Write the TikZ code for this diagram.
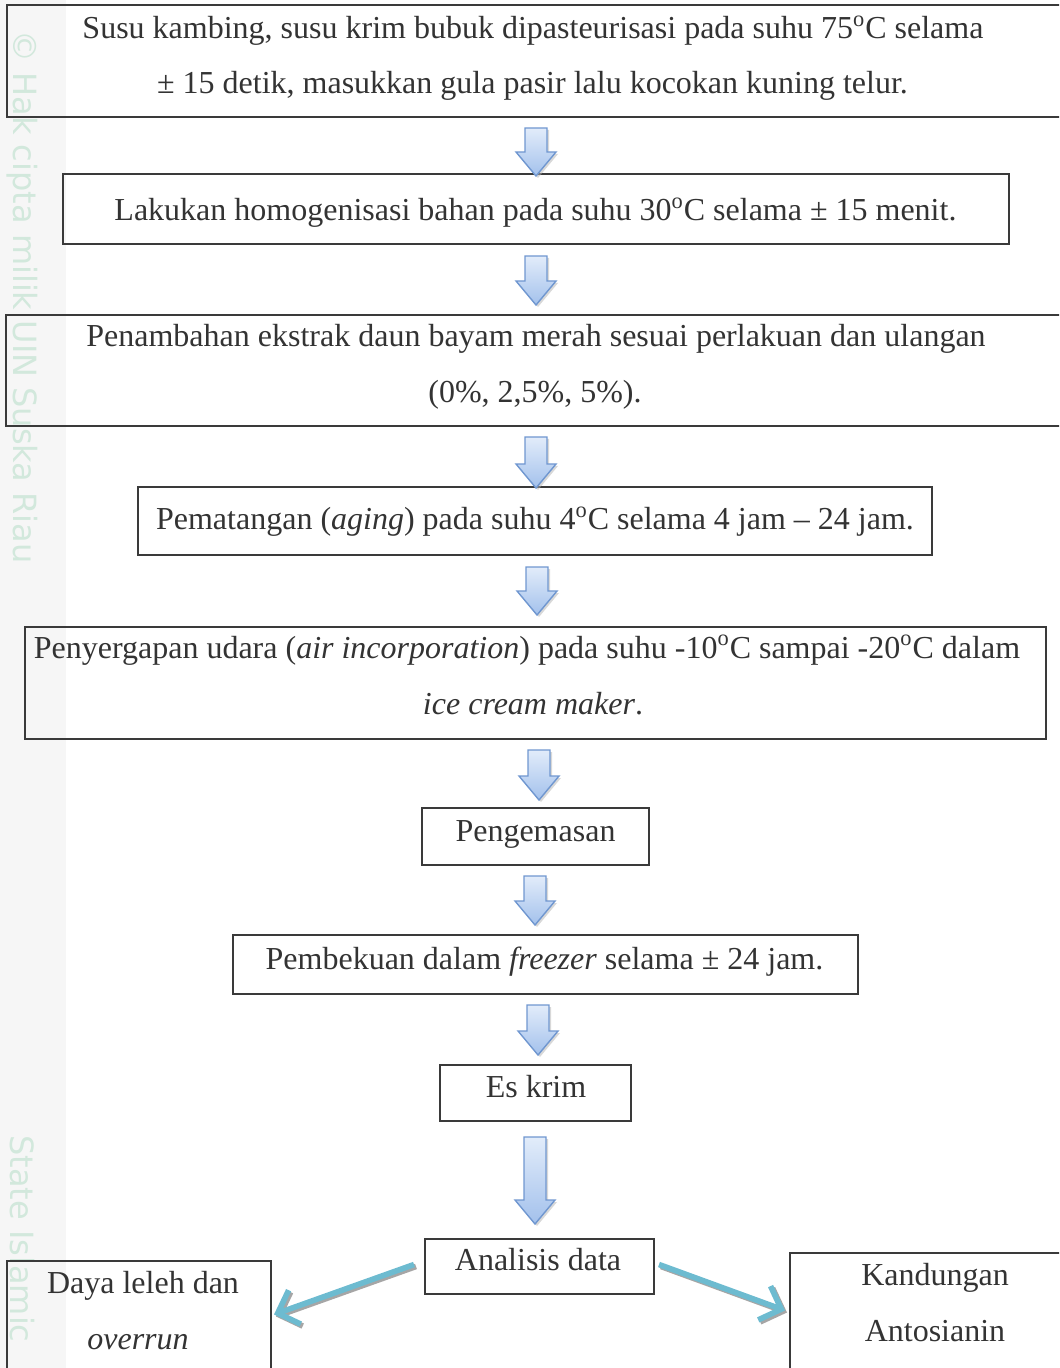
\documentclass[tikz,border=0pt]{standalone}
\usepackage{fontspec}
\setmainfont{Liberation Serif}
\newfontfamily\wmfont{DejaVu Sans}
\usetikzlibrary{arrows.meta}
\definecolor{boxline}{HTML}{3A3A3A}
\definecolor{txtcol}{HTML}{333333}
\definecolor{arrtop}{HTML}{E2ECFA}
\definecolor{arrbot}{HTML}{A3C1EC}
\definecolor{arredge}{HTML}{7097D0}
\definecolor{tealarr}{HTML}{6DBBD0}
\definecolor{wmgreen}{HTML}{D2E8DC}
\tikzset{
  box/.style={draw=boxline, line width=1pt, rectangle, inner sep=0pt},
  txt/.style={text=txtcol, font=\fontsize{16}{18}\selectfont, inner sep=0pt, anchor=base, yshift=-1.5pt},
  wm/.style={rotate=-90, anchor=west, text=wmgreen, font=\wmfont\fontsize{16}{16}\selectfont, inner sep=0pt},
  tealline/.style={draw=tealarr, line width=2.8pt, -{Straight Barb[length=9pt,width=18pt,line width=2.8pt]}},
  tealshadow/.style={draw=gray!70, line width=2.8pt, -{Straight Barb[length=9pt,width=18pt,line width=2.8pt]}},
}
% block arrow: x, top y, tip y (pixel units)
\newcommand\blockarr[3]{%
  \fill[gray!60, opacity=0.5] ({#1-11+2},{#2+2}) -- ({#1+11+2},{#2+2}) -- ({#1+11+2},{#3-24+2}) -- ({#1+20+2},{#3-24+2}) -- ({#1+2},{#3+2}) -- ({#1-20+2},{#3-24+2}) -- ({#1-11+2},{#3-24+2}) -- cycle;
  \path[draw=arredge, line width=0.7pt, top color=arrtop, bottom color=arrbot, line join=miter]
    ({#1-11},{#2}) -- ({#1+11},{#2}) -- ({#1+11},{#3-24}) -- ({#1+20},{#3-24}) -- (#1,#3) -- ({#1-20},{#3-24}) -- ({#1-11},{#3-24}) -- cycle;}
\begin{document}
\begin{tikzpicture}[x=0.5pt,y=-0.5pt]
\useasboundingbox (0,0) rectangle (1059,1368);
\clip (0,0) rectangle (1059,1368);
\fill[gray!7] (0,0) rectangle (66,1368);
% watermark
\node[wm] (wm1) at (22,30) {© Hak cipta milik UIN Suska Riau};
\node[wm] (wm2) at (22,1135) {State Islamic};

% boxes
\node[box, minimum width=531.5pt, minimum height=56pt] (b1) at (538.5,61) {};
\node[box, minimum width=473pt, minimum height=35pt] (b2) at (536,209) {};
\node[box, minimum width=532pt, minimum height=55.5pt] (b3) at (538,370.5) {};
\node[box, minimum width=397pt, minimum height=34pt] (b4) at (535,521) {};
\node[box, minimum width=510.5pt, minimum height=56pt] (b5) at (535.5,683) {};
\node[box, minimum width=113.5pt, minimum height=28.5pt] (b6) at (535.5,836.5) {};
\node[box, minimum width=312.5pt, minimum height=29.5pt] (b7) at (545.5,964.5) {};
\node[box, minimum width=95.5pt, minimum height=28pt] (b8) at (535.5,1093) {};
\node[box, minimum width=114.5pt, minimum height=27.5pt] (b9) at (539.5,1266.5) {};
\node[box, minimum width=132pt, minimum height=59.5pt] (b10) at (139,1320.5) {};
\node[box, minimum width=140pt, minimum height=63.5pt] (b11) at (930,1316.5) {};

% texts
\node[txt] (t1a) at (533,36) {Susu kambing, susu krim bubuk dipasteurisasi pada suhu 75\textsuperscript{o}C selama};
\node[txt] (t1b) at (532.5,91) {± 15 detik, masukkan gula pasir lalu kocokan kuning telur.};
\node[txt] (t2) at (535.5,218) {Lakukan homogenisasi bahan pada suhu 30\textsuperscript{o}C selama ± 15 menit.};
\node[txt] (t3a) at (536,344) {Penambahan ekstrak daun bayam merah sesuai perlakuan dan ulangan};
\node[txt] (t3b) at (535,400) {(0\%, 2,5\%, 5\%).};
\node[txt] (t4) at (535,527) {Pematangan (\textit{aging}) pada suhu 4\textsuperscript{o}C selama 4 jam – 24 jam.};
\node[txt] (t5a) at (527,655) {Penyergapan udara (\textit{air incorporation}) pada suhu -10\textsuperscript{o}C sampai -20\textsuperscript{o}C dalam};
\node[txt] (t5b) at (533,711) {\textit{ice cream maker}.};
\node[txt] (t6) at (535.5,838) {Pengemasan};
\node[txt] (t7) at (544.5,966) {Pembekuan dalam \textit{freezer} selama ± 24 jam.};
\node[txt] (t8) at (536,1094) {Es krim};
\node[txt] (t9) at (538,1267) {Analisis data};
\node[txt] (t10a) at (143,1290) {Daya leleh dan};
\node[txt] (t10b) at (138,1346) {\textit{overrun}};
\node[txt] (t11a) at (935,1282) {Kandungan};
\node[txt] (t11b) at (935,1338) {Antosianin};

% block arrows
\blockarr{536}{128}{176}
\blockarr{536}{256}{305}
\blockarr{536}{437}{488}
\blockarr{537}{567}{615}
\blockarr{539}{750}{800}
\blockarr{535}{876}{925}
\blockarr{538}{1005}{1055}
\blockarr{535}{1137}{1224}

% teal arrows
\coordinate (la) at ([xshift=-5pt,yshift=1pt]b9.west);
\coordinate (lb) at ([xshift=1pt,yshift=3pt]b10.east);
\coordinate (ra) at ([xshift=2pt,yshift=1pt]b9.east);
\coordinate (rb) at ([xshift=-2pt,yshift=3pt]b11.west);
\draw[tealshadow] ([shift={(1pt,-1pt)}]la) -- ([shift={(1pt,-1pt)}]lb);
\draw[tealline] (la) -- (lb);
\draw[tealshadow] ([shift={(1pt,-1pt)}]ra) -- ([shift={(1pt,-1pt)}]rb);
\draw[tealline] (ra) -- (rb);
\end{tikzpicture}
\end{document}
